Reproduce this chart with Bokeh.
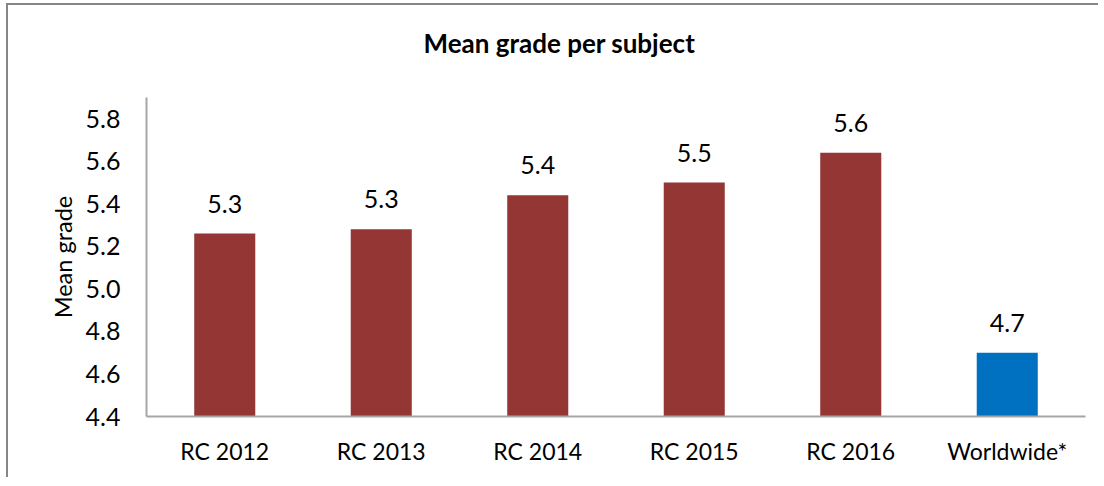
from bokeh.plotting import figure
from bokeh.models import ColumnDataSource, FixedTicker, Range1d, Title
from bokeh.core.properties import value
from bokeh.embed import file_html
from bokeh.resources import INLINE

categories = ["RC 2012", "RC 2013", "RC 2014", "RC 2015", "RC 2016", "Worldwide*"]
mean_grades = [5.26, 5.28, 5.44, 5.50, 5.64, 4.70]
bar_colors = ["#943634", "#943634", "#943634", "#943634", "#943634", "#0070C0"]
y_ticks = [4.4, 4.6, 4.8, 5.0, 5.2, 5.4, 5.6, 5.8]
value_labels = [f"{v:.1f}" for v in mean_grades]
chart_title = "Mean grade per subject"

FONT = "Lato"

src = ColumnDataSource(dict(cat=categories, val=mean_grades, color=bar_colors, lab=value_labels))

p = figure(x_range=categories, y_range=Range1d(4.4, 5.9), width=1092, height=474,
           output_backend="svg", toolbar_location=None,
           min_border_left=138, min_border_right=15, min_border_top=92, min_border_bottom=63)

p.vbar(x="cat", top="val", bottom=4.4, width=0.39, color="color", line_color=None, source=src)
p.text(x="cat", y="val", text="lab", source=src, text_align="center", text_baseline="alphabetic",
       y_offset=-30, text_font=value(FONT), text_font_size="25px", text_color="#000000")

spacer = Title(text=" ", standoff=17, text_font=FONT, text_font_size="1px")
p.add_layout(spacer, "above")
t = Title(text=chart_title, align="left", offset=277, standoff=38,
          text_font=FONT, text_font_size="26px", text_font_style="bold", text_color="#000000")
p.add_layout(t, "above")

p.xgrid.visible = False
p.ygrid.visible = False
p.outline_line_color = None
p.background_fill_color = "white"
p.border_fill_color = "white"

ya = p.yaxis[0]
ya.ticker = FixedTicker(ticks=y_ticks)
ya.formatter.use_scientific = False
ya.major_label_overrides = {t_: f"{t_:.1f}" for t_ in y_ticks}
ya.major_tick_line_color = None
ya.minor_tick_line_color = None
ya.major_tick_out = 0
ya.major_tick_in = 0
ya.axis_line_color = "#a6a6a6"
ya.axis_line_width = 2
ya.major_label_standoff = 26
ya.major_label_text_font = FONT
ya.major_label_text_font_size = "25px"
ya.major_label_text_color = "#000000"
ya.axis_label = "Mean grade"
ya.axis_label_text_font = FONT
ya.axis_label_text_font_size = "23.5px"
ya.axis_label_text_font_style = "normal"
ya.axis_label_text_color = "#000000"
ya.axis_label_standoff = 6

xa = p.xaxis[0]
xa.major_tick_line_color = None
xa.minor_tick_line_color = None
xa.major_tick_out = 0
xa.major_tick_in = 0
xa.axis_line_color = "#a6a6a6"
xa.axis_line_width = 2
xa.major_label_standoff = 20
xa.major_label_text_font = FONT
xa.major_label_text_font_size = "23px"
xa.major_label_text_color = "#000000"

p.styles = {"margin-left": "6px", "margin-top": "3px",
            "border-top": "2px solid #868686", "border-left": "2px solid #868686"}

open("out.html", "w").write(file_html(p, INLINE))
